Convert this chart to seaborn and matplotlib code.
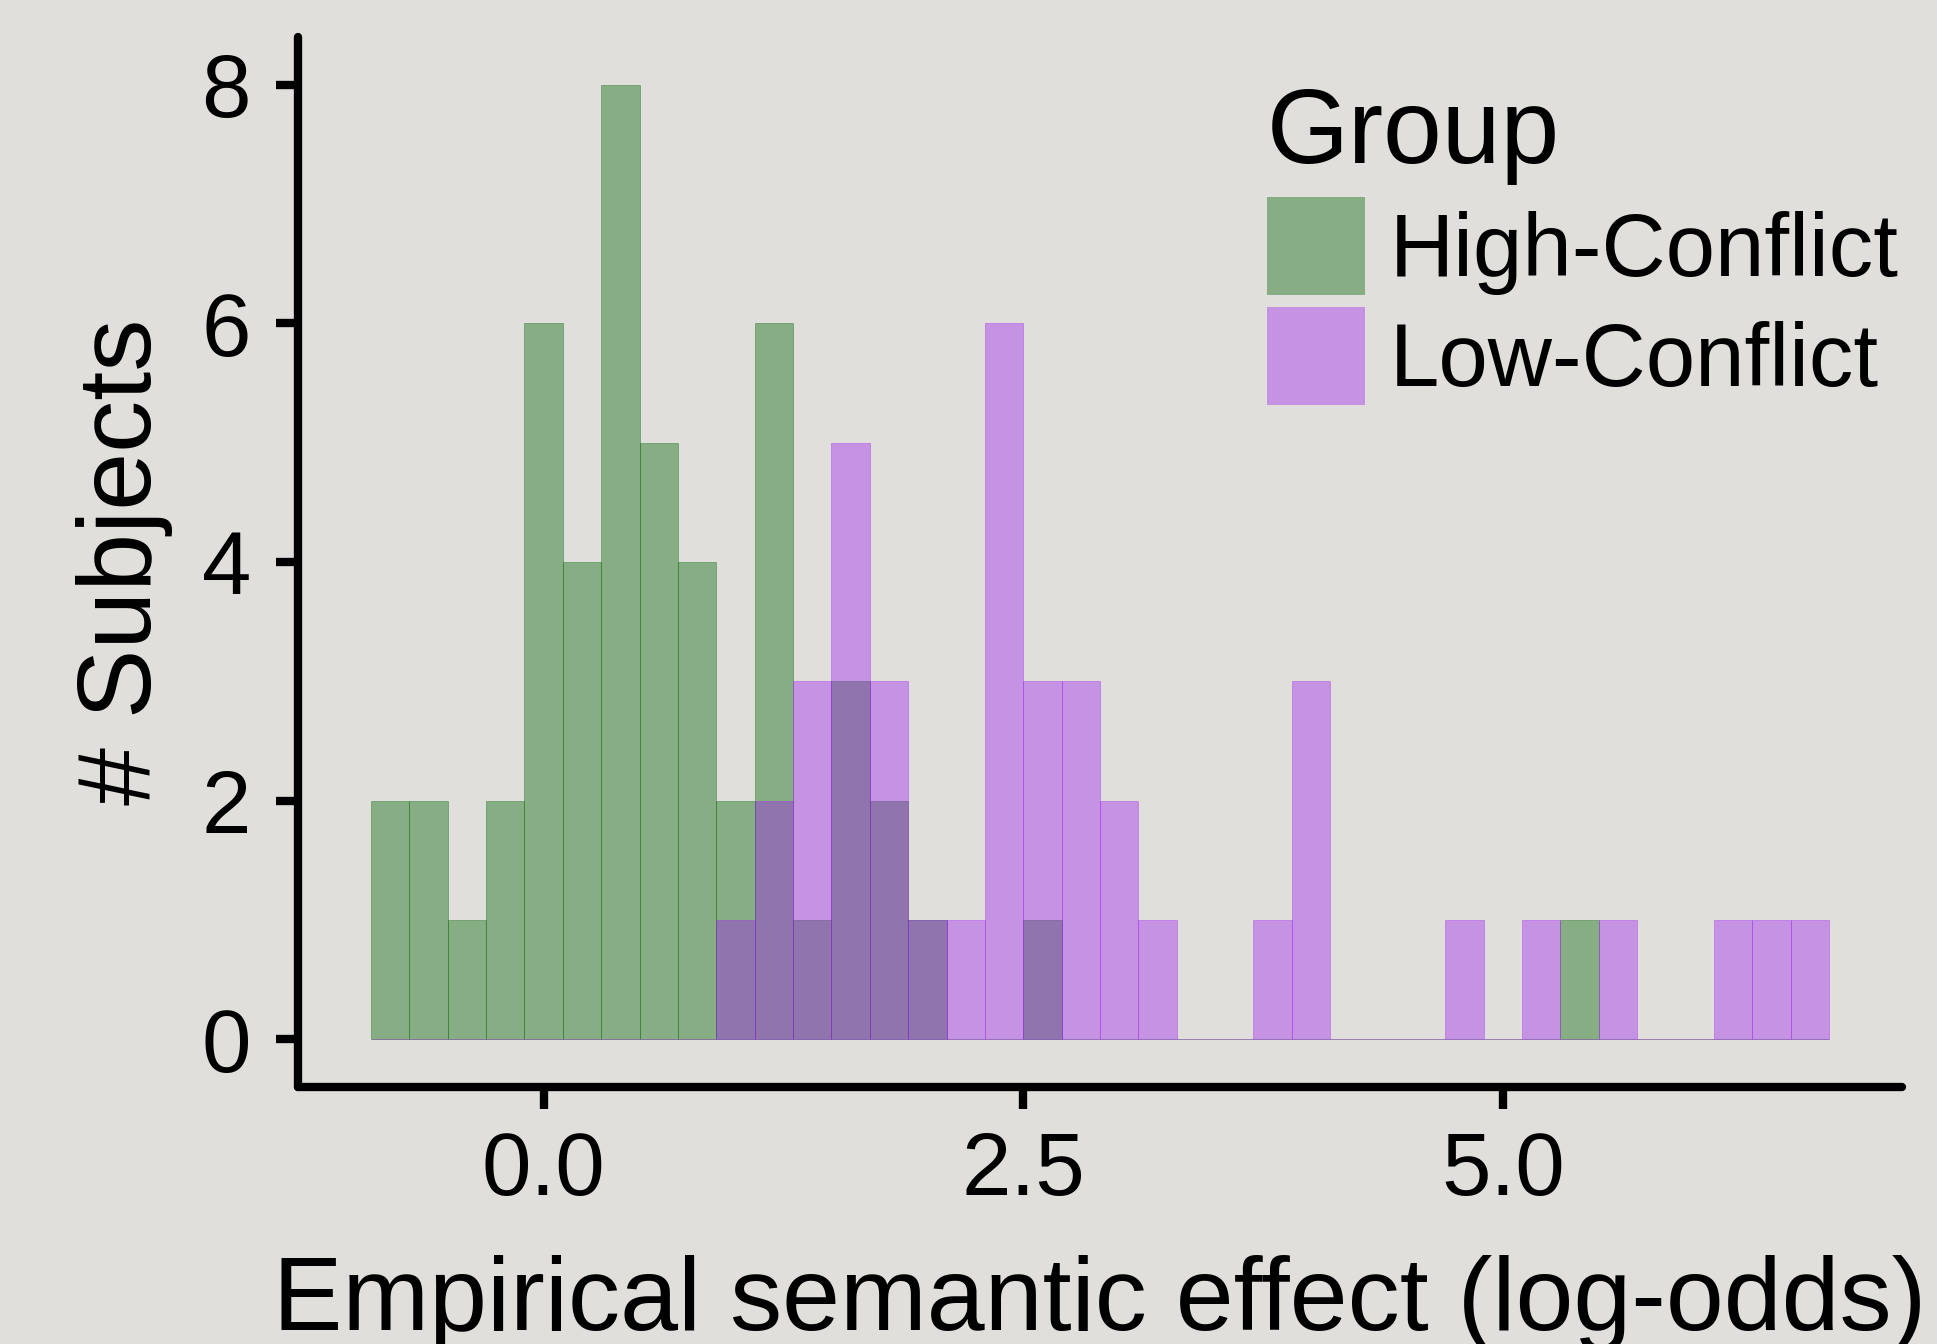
import numpy as np
import pandas as pd
import matplotlib
matplotlib.use("Agg")
import matplotlib.pyplot as plt
import matplotlib.transforms as mtransforms
from matplotlib.colors import to_rgba
import seaborn as sns

# --- Data: counts per 0.2-wide bin, first bin starts at -0.9 ---
bin_start = -0.9
bin_width = 0.2
n_bins = 38
bin_edges = [round(bin_start + bin_width * i, 2) for i in range(n_bins + 1)]
bin_centers = [round(e + bin_width / 2, 2) for e in bin_edges[:-1]]

high_conflict = [2, 2, 1, 2, 6, 4, 8, 5, 4, 2,
                 6, 1, 3, 2, 1, 0, 0, 1, 0, 0,
                 0, 0, 0, 0, 0, 0, 0, 0, 0, 0,
                 0, 1, 0, 0, 0, 0, 0, 0]
low_conflict = [0, 0, 0, 0, 0, 0, 0, 0, 0, 1,
                2, 3, 5, 3, 1, 1, 6, 3, 3, 2,
                1, 0, 0, 1, 3, 0, 0, 0, 1, 0,
                1, 0, 1, 0, 0, 1, 1, 1]

colors = {"High-Conflict": "#006400", "Low-Conflict": "#A020F0"}
ALPHA = 0.4
BG = "#E0DFDB"

x_ticks = [0.0, 2.5, 5.0]
x_ticklabels = ["0.0", "2.5", "5.0"]
y_ticks = [0, 2, 4, 6, 8]

# --- Style ---
sns.set_theme(style="ticks")
plt.rcParams.update({
    "figure.facecolor": BG,
    "axes.facecolor": BG,
    "axes.edgecolor": "black",
    "text.color": "black",
    "axes.labelcolor": "black",
    "xtick.color": "black",
    "ytick.color": "black",
})
plt.rcParams["font.family"] = ["Liberation Sans", "DejaVu Sans"]

W, H = 1937, 1344
fig = plt.figure(figsize=(W / 100, H / 100), dpi=100)
left, right, top, bottom = 298, 1902, 37, 1087
ax = fig.add_axes([left / W, (H - bottom) / H, (right - left) / W, (bottom - top) / H])

for grp, counts in [("High-Conflict", high_conflict), ("Low-Conflict", low_conflict)]:
    df = pd.DataFrame({"effect": bin_centers, "n": counts})
    c = colors[grp]
    sns.histplot(data=df, x="effect", weights="n", bins=bin_edges, ax=ax,
                 color=c, alpha=ALPHA, edgecolor=to_rgba(c, ALPHA),
                 linewidth=0.6, label=grp)

ax.set_xlim(-1.28, 7.08)
ax.set_ylim(-0.4, 8.4)
ax.set_xticks(x_ticks)
ax.set_xticklabels(x_ticklabels)
ax.set_yticks(y_ticks)

for side in ["top", "right"]:
    ax.spines[side].set_visible(False)
for side in ["left", "bottom"]:
    ax.spines[side].set_linewidth(6)
    ax.spines[side].set_capstyle("round")

ax.tick_params(axis="both", direction="out", length=15.8, width=6,
               labelsize=64, color="black")
ax.tick_params(axis="x", pad=15)
ax.tick_params(axis="y", pad=18)

ax.set_xlabel("Empirical semantic effect (log-odds)", fontsize=75, va="baseline")
ax.xaxis.set_label_coords(0.5, (H - 1330) / H,
                          transform=mtransforms.blended_transform_factory(ax.transAxes, fig.transFigure))
ax.set_ylabel("# Subjects", fontsize=75, va="baseline")
ax.yaxis.set_label_coords(151 / W, 0.5,
                          transform=mtransforms.blended_transform_factory(fig.transFigure, ax.transAxes))

leg = ax.legend(loc="upper left", bbox_to_anchor=(1267 / W, 1 - 86 / H),
                bbox_transform=fig.transFigure, frameon=False,
                fontsize=64, title="Group", title_fontsize=76,
                handlelength=1.1, handleheight=1.31, handletextpad=0.28,
                labelspacing=0.14, borderpad=0, borderaxespad=0,
                alignment="left")
for h in leg.legend_handles:
    h.set_edgecolor("none")

fig.savefig("out.png", dpi=100, facecolor=BG)
